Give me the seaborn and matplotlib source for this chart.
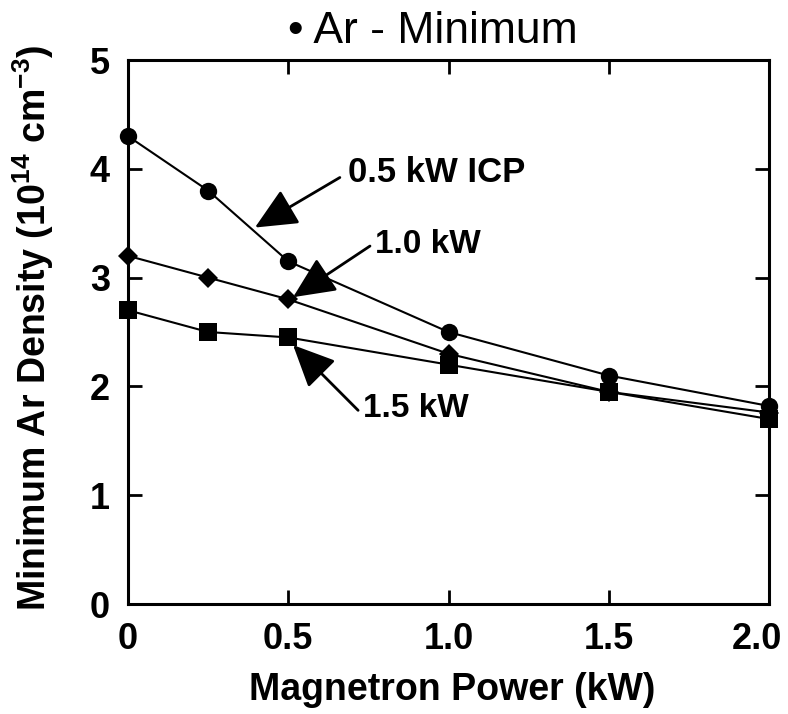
import numpy as np
import pandas as pd
import matplotlib
matplotlib.use("Agg")
import matplotlib.pyplot as plt
import matplotlib.transforms as mtransforms
import seaborn as sns

# ---- data ----
magnetron_power = [0.0, 0.25, 0.5, 1.0, 1.5, 2.0]
icp_05 = [4.3, 3.8, 3.15, 2.5, 2.1, 1.82]
icp_10 = [3.2, 3.0, 2.8, 2.3, 1.95, 1.76]
icp_15 = [2.7, 2.5, 2.45, 2.2, 1.95, 1.7]
series_names = ["0.5 kW ICP", "1.0 kW", "1.5 kW"]
x_ticks = [0, 0.5, 1.0, 1.5, 2.0]
x_tick_labels = ["0", "0.5", "1.0", "1.5", "2.0"]
y_ticks = [0, 1, 2, 3, 4, 5]

sns.set_style("ticks")
plt.rcParams["font.family"] = ["Liberation Sans", "DejaVu Sans"]
plt.rcParams["text.color"] = "black"
plt.rcParams["axes.labelcolor"] = "black"
plt.rcParams["xtick.color"] = "black"
plt.rcParams["ytick.color"] = "black"
plt.rcParams["mathtext.fontset"] = "custom"
plt.rcParams["mathtext.rm"] = "Liberation Sans:bold"
plt.rcParams["mathtext.bf"] = "Liberation Sans:bold"
plt.rcParams["mathtext.it"] = "Liberation Sans:bold"

df = pd.DataFrame({
    "power": magnetron_power * 3,
    "density": icp_05 + icp_10 + icp_15,
    "series": sum([[n] * len(magnetron_power) for n in series_names], []),
})

fig = plt.figure(figsize=(7.88, 7.14), dpi=100)
ax = fig.add_axes([128 / 788, 1 - 604 / 714, (769 - 128) / 788, (604 - 60) / 714])

marker_spec = {"0.5 kW ICP": ("o", 12.5), "1.0 kW": ("D", 10.5), "1.5 kW": ("s", 13)}
for name in series_names:
    sub = df[df["series"] == name]
    m, ms = marker_spec[name]
    sns.lineplot(data=sub, x="power", y="density", ax=ax, color="black",
                 marker=m, markersize=ms, markeredgewidth=0, linewidth=1.5,
                 clip_on=False, zorder=3)

ax.set_xlim(0, 2.0)
ax.set_ylim(0, 5)
ax.set_xticks(x_ticks)
ax.set_xticklabels(x_tick_labels)
ax.set_yticks(y_ticks)
for s in ax.spines.values():
    s.set_linewidth(2.2)
    s.set_color("black")
    s.set_visible(True)
ax.tick_params(direction="in", length=10, width=2, top=True, right=True,
               labelsize=26, colors="black")
ax.tick_params(axis="x", pad=13)
ax.tick_params(axis="y", pad=13)
for lab in ax.get_xticklabels() + ax.get_yticklabels():
    lab.set_fontweight("bold")
last = ax.get_xticklabels()[-1]
last.set_transform(last.get_transform() +
                   mtransforms.ScaledTranslation(-9 / 72, 0, fig.dpi_scale_trans))

ax.set_xlabel("Magnetron Power (kW)", fontsize=27, fontweight="bold")
ax.xaxis.set_label_coords(0.505, -0.125)
ax.set_ylabel(r"Minimum Ar Density (10$^{14}$ cm$^{-3}$)", fontsize=27,
              fontweight="bold")
ax.yaxis.set_label_coords(-0.112, 0.507)

fig.text(433 / 788, 1 - 43 / 714, "\u2022 Ar - Minimum", fontsize=32,
         ha="center", va="baseline")

arrow = dict(arrowstyle="-|>,head_length=1.3,head_width=0.6", lw=2,
             color="black", shrinkA=0, shrinkB=0, mutation_scale=20)
# arrows: (tip, start)
ax.annotate("", xy=(0.396, 3.46), xytext=(0.661, 3.92), arrowprops=arrow)
ax.annotate("", xy=(0.515, 2.82), xytext=(0.755, 3.29), arrowprops=arrow)
ax.annotate("", xy=(0.515, 2.38), xytext=(0.718, 1.78), arrowprops=arrow)
ax.text(0.687, 3.97, series_names[0], fontsize=25, fontweight="bold",
        ha="left", va="center")
ax.text(0.772, 3.30, series_names[1], fontsize=24, fontweight="bold",
        ha="left", va="center")
ax.text(0.734, 1.80, series_names[2], fontsize=24, fontweight="bold",
        ha="left", va="center")

fig.savefig("out.png", dpi=100)
